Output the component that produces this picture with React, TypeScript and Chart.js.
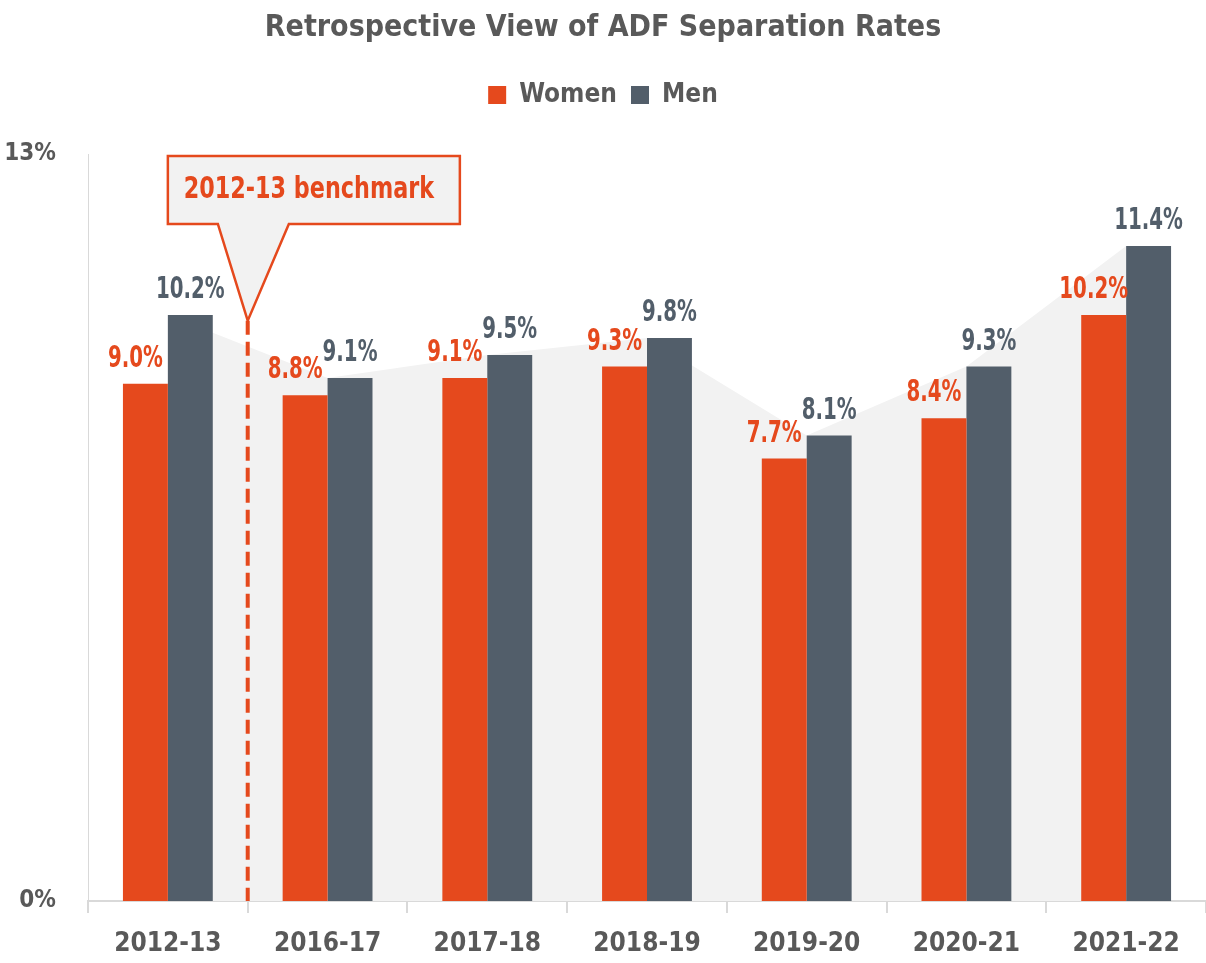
import React, { useEffect, useRef } from "react";
import { Chart, registerables } from "chart.js";

Chart.register(...registerables);

const categories = ["2012-13", "2016-17", "2017-18", "2018-19", "2019-20", "2020-21", "2021-22"];
const women = [9.0, 8.8, 9.1, 9.3, 7.7, 8.4, 10.2];
const men = [10.2, 9.1, 9.5, 9.8, 8.1, 9.3, 11.4];
const yTicks = [0, 13];
const benchmarkLabel = "2012-13 benchmark";
const benchmarkLevel = 10.1;
const titleText = "Retrospective View of ADF Separation Rates";

const FONT = "'DejaVu Sans Condensed', 'Liberation Sans Narrow', 'Roboto Condensed', sans-serif";
const ORANGE = "#E5491D";
const SLATE = "#525E6A";
const GREY_TEXT = "#595959";
const AREA = "#F2F2F2";
const AXIS = "#D9D9D9";

function narrowText(ctx: any, text: string, x: number, y: number, sx: number) {
  ctx.save();
  ctx.translate(x, y);
  ctx.scale(sx, 1);
  ctx.fillText(text, 0, 0);
  ctx.restore();
}

const legendSpacer = {
  id: "legendSpacer",
  beforeInit(chart: any) {
    const legend = chart.legend;
    if (!legend) return;
    const origFit = legend.fit;
    legend.fit = function () {
      origFit.call(this);
      this.height += 36;
    };
  },
};

const labelPlugin = {
  id: "barLabels",
  afterDatasetsDraw(chart: any) {
    const ctx = chart.ctx;
    ctx.save();
    ctx.font = `bold 31px ${FONT}`;
    ctx.textAlign = "center";
    ctx.textBaseline = "middle";
    chart.data.datasets.forEach((ds: any, di: number) => {
      if (ds.type === "line") return;
      const meta = chart.getDatasetMeta(di);
      const dx = di === 0 ? -10 : 0;
      ctx.fillStyle = di === 0 ? ORANGE : SLATE;
      meta.data.forEach((el: any, i: number) => {
        narrowText(ctx, ds.data[i].toFixed(1) + "%", el.x + dx, el.y - 25, 0.71);
      });
    });
    ctx.restore();
  },
};

const benchmarkPlugin = {
  id: "benchmark",
  afterDatasetsDraw(chart: any) {
    const ctx = chart.ctx;
    const x = chart.scales.x;
    const y = chart.scales.y;
    const area = chart.chartArea;
    const lineX = (x.getPixelForValue(0) + x.getPixelForValue(1)) / 2;
    const tipY = y.getPixelForValue(benchmarkLevel);
    ctx.save();
    ctx.strokeStyle = ORANGE;
    ctx.lineWidth = 4;
    ctx.setLineDash([14, 7]);
    ctx.beginPath();
    ctx.moveTo(lineX, tipY);
    ctx.lineTo(lineX, y.getPixelForValue(0));
    ctx.stroke();
    ctx.setLineDash([]);
    const bx = x.getPixelForValue(0);
    const by = area.top + 2;
    const bw = 292;
    const bh = 68;
    ctx.beginPath();
    ctx.moveTo(bx, by);
    ctx.lineTo(bx + bw, by);
    ctx.lineTo(bx + bw, by + bh);
    ctx.lineTo(bx + 121, by + bh);
    ctx.lineTo(lineX, tipY);
    ctx.lineTo(bx + 50, by + bh);
    ctx.lineTo(bx, by + bh);
    ctx.closePath();
    ctx.fillStyle = AREA;
    ctx.fill();
    ctx.lineWidth = 2.5;
    ctx.strokeStyle = ORANGE;
    ctx.stroke();
    ctx.fillStyle = ORANGE;
    ctx.font = `bold 31px ${FONT}`;
    ctx.textAlign = "center";
    ctx.textBaseline = "middle";
    narrowText(ctx, benchmarkLabel, bx + 141, by + bh / 2, 0.8);
    ctx.restore();
  },
};

export default function App() {
  const ref = useRef<HTMLCanvasElement>(null);
  useEffect(() => {
    document.body.style.margin = "0";
    const chart = new Chart(ref.current as HTMLCanvasElement, {
      type: "bar",
      data: {
        labels: categories,
        datasets: [
          {
            label: "Women",
            data: women,
            backgroundColor: ORANGE,
            barPercentage: 1,
            categoryPercentage: 0.5625,
            order: 1,
          } as any,
          {
            label: "Men",
            data: men,
            backgroundColor: SLATE,
            barPercentage: 1,
            categoryPercentage: 0.5625,
            order: 1,
          } as any,
          {
            type: "line",
            label: "area",
            data: men,
            fill: "origin",
            backgroundColor: AREA,
            borderWidth: 0,
            pointRadius: 0,
            tension: 0,
            order: 5,
          } as any,
        ],
      },
      options: {
        animation: false,
        responsive: true,
        maintainAspectRatio: false,
        layout: { padding: { left: 0, right: 0, top: 0, bottom: 0 } },
        plugins: {
          title: {
            display: true,
            text: titleText,
            color: GREY_TEXT,
            font: { family: FONT, size: 30, weight: "bold" },
            padding: { top: 10, bottom: 22 },
          },
          legend: {
            display: true,
            labels: {
              color: GREY_TEXT,
              font: { family: FONT, size: 26, weight: "bold" },
              boxWidth: 18,
              boxHeight: 18,
              padding: 14,
              filter: (item: any) => item.text !== "area",
            },
          },
          tooltip: { enabled: false },
        },
        scales: {
          x: {
            offset: true,
            afterFit: (scale: any) => {
              scale.height = 62;
            },
            grid: {
              display: true,
              drawOnChartArea: false,
              drawTicks: true,
              tickLength: 12,
              color: AXIS,
              lineWidth: 2,
            },
            border: { display: true, color: AXIS, width: 2 },
            ticks: {
              color: GREY_TEXT,
              font: { family: FONT, size: 26, weight: "bold" },
              padding: 16,
            },
          },
          y: {
            min: 0,
            max: 13,
            afterBuildTicks: (scale: any) => {
              scale.ticks = yTicks.map((v) => ({ value: v }));
            },
            afterFit: (scale: any) => {
              scale.width = 88;
            },
            grid: { display: false },
            border: { display: true, color: AXIS, width: 1 },
            ticks: {
              color: GREY_TEXT,
              font: { family: FONT, size: 24, weight: "bold" },
              padding: 24,
              callback: (v: any) => v + "%",
            },
          },
        },
      },
      plugins: [legendSpacer, labelPlugin, benchmarkPlugin],
    });
    return () => chart.destroy();
  }, []);
  return (
    <div style={{ width: 1206, height: 963, position: "relative" }}>
      <canvas ref={ref} />
    </div>
  );
}
